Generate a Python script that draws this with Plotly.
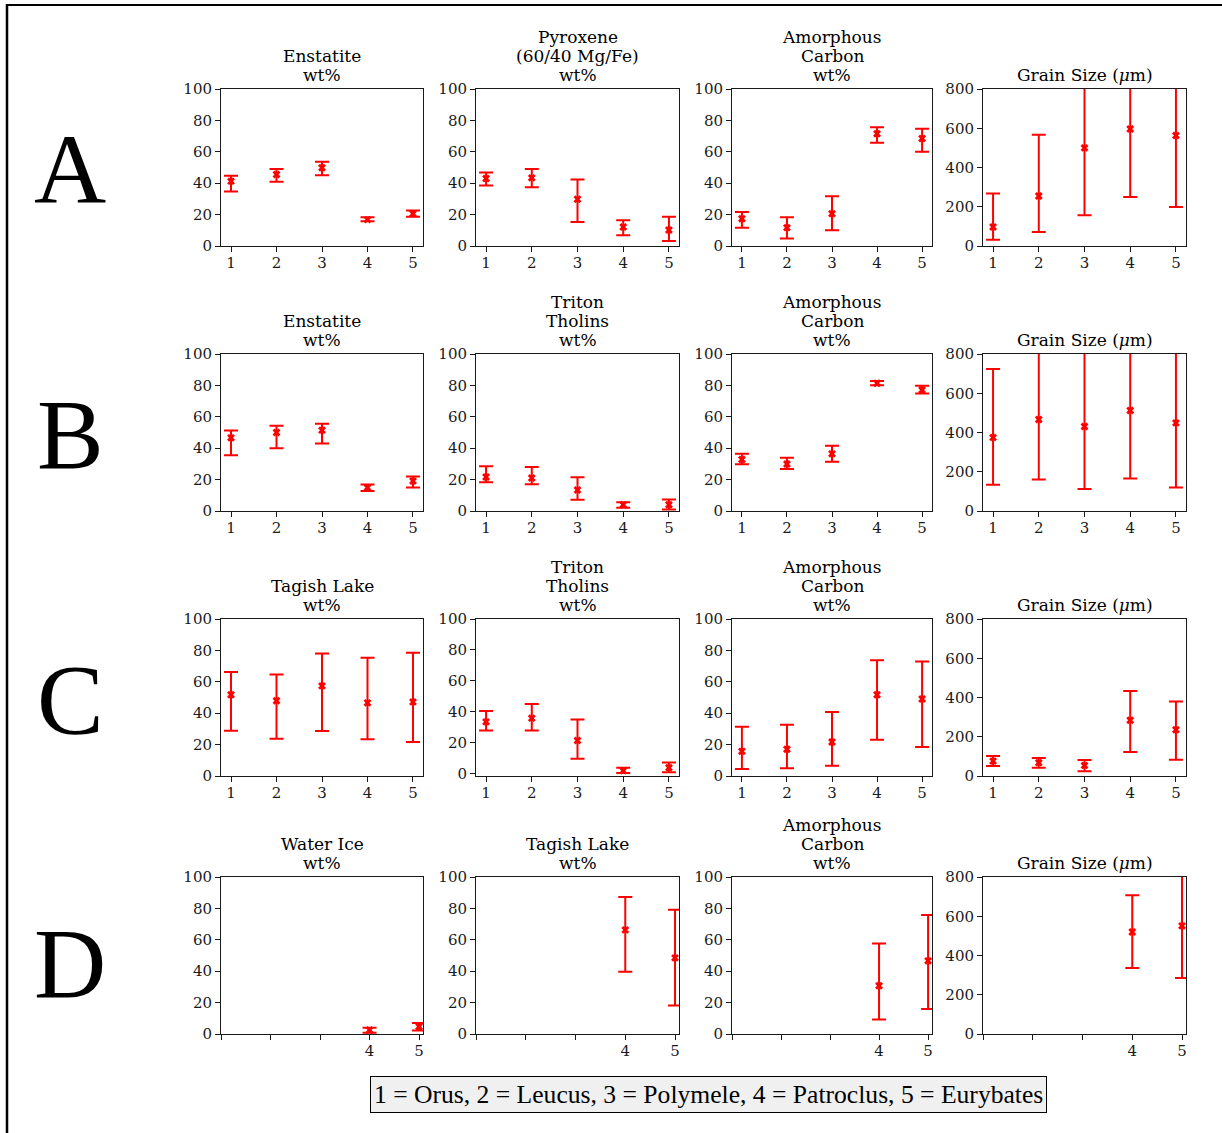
import plotly.graph_objects as go

W, H = 1222, 1133

# ---------------- data ----------------
xs = [1, 2, 3, 4, 5]
xs_D = [4, 5]

# Row A
A_enst = [41.3, 45.5, 49.8, 16.8, 20.6]
A_enst_hi = [44.7, 49.0, 53.6, 18.3, 22.6]
A_enst_lo = [34.7, 40.9, 45.1, 15.7, 18.7]

A_pyrox = [43.0, 43.4, 29.8, 12.1, 10.2]
A_pyrox_hi = [46.8, 49.1, 42.3, 16.4, 18.7]
A_pyrox_lo = [38.5, 37.4, 15.3, 6.8, 3.2]

A_amc = [17.4, 11.7, 20.6, 71.5, 68.5]
A_amc_hi = [21.7, 18.3, 31.7, 75.7, 74.7]
A_amc_lo = [11.7, 4.7, 10.0, 65.7, 60.0]

A_grain = [97, 255, 500, 596, 563]
A_grain_hi = [267, 567, 843, 942, 927]
A_grain_lo = [32, 71, 157, 250, 199]

# Row B
B_enst = [46.6, 50.0, 51.5, 14.9, 19.1]
B_enst_hi = [51.3, 54.3, 55.5, 16.8, 21.9]
B_enst_lo = [35.5, 40.0, 43.0, 12.8, 14.9]

B_thol = [21.7, 21.0, 13.4, 4.0, 4.0]
B_thol_hi = [28.5, 28.1, 21.5, 5.5, 7.4]
B_thol_lo = [18.3, 17.0, 7.2, 2.1, 1.0]

B_amc = [32.8, 29.9, 36.4, 81.4, 77.1]
B_amc_hi = [36.4, 33.9, 41.5, 82.8, 79.7]
B_amc_lo = [29.7, 26.7, 31.4, 80.1, 74.8]

B_grain = [375, 466, 431, 512, 449]
B_grain_hi = [724, 900, 900, 900, 900]
B_grain_lo = [134, 161, 112, 166, 120]

# Row C
C_tagish = [51.7, 47.9, 57.4, 46.6, 47.2]
C_tagish_hi = [66.2, 64.7, 78.1, 75.3, 78.5]
C_tagish_lo = [28.9, 23.8, 28.7, 23.4, 21.7]

C_thol = [33.5, 35.9, 21.4, 1.9, 3.9]
C_thol_hi = [40.6, 45.1, 35.0, 3.9, 7.3]
C_thol_lo = [27.9, 27.9, 9.7, 0.4, 0.9]

C_amc = [15.7, 17.0, 21.7, 51.8, 49.0]
C_amc_hi = [31.4, 32.7, 40.8, 73.7, 73.0]
C_amc_lo = [4.5, 4.9, 6.6, 23.1, 18.5]

C_grain = [76, 68, 54, 284, 236]
C_grain_hi = [102, 92, 81, 433, 379]
C_grain_lo = [51, 42, 24, 122, 83]

# Row D (only Patroclus and Eurybates)
D_ice = [2.5, 4.7]
D_ice_hi = [4.0, 7.0]
D_ice_lo = [0.8, 2.3]

D_tagish = [66.3, 48.5]
D_tagish_hi = [87.3, 79.2]
D_tagish_lo = [39.6, 18.2]

D_amc = [30.7, 46.6]
D_amc_hi = [57.6, 75.8]
D_amc_lo = [9.3, 15.9]

D_grain = [520, 551]
D_grain_hi = [707, 900]
D_grain_lo = [336, 285]

grain_title = ["Grain Size (<i>μ</i>m)"]
titles_A = [["Enstatite", "wt%"], ["Pyroxene", "(60/40 Mg/Fe)", "wt%"], ["Amorphous", "Carbon", "wt%"], grain_title]
titles_B = [["Enstatite", "wt%"], ["Triton", "Tholins", "wt%"], ["Amorphous", "Carbon", "wt%"], grain_title]
titles_C = [["Tagish Lake", "wt%"], ["Triton", "Tholins", "wt%"], ["Amorphous", "Carbon", "wt%"], grain_title]
titles_D = [["Water Ice", "wt%"], ["Tagish Lake", "wt%"], ["Amorphous", "Carbon", "wt%"], grain_title]

row_letters = ["A", "B", "C", "D"]
legend_text = "1 = Orus, 2 = Leucus, 3 = Polymele, 4 = Patroclus, 5 = Eurybates"

wt_ticks = [0, 20, 40, 60, 80, 100]
grain_ticks = [0, 200, 400, 600, 800]

# ---------------- layout geometry (pixels) ----------------
col_px = [(221, 423), (476, 679), (732, 932), (983, 1186)]
row_px = [(89, 246), (354, 511), (619, 776), (877, 1034)]
letter_y = [172, 437, 701, 965]

rows = [
    (xs, [(A_enst, A_enst_hi, A_enst_lo), (A_pyrox, A_pyrox_hi, A_pyrox_lo),
          (A_amc, A_amc_hi, A_amc_lo), (A_grain, A_grain_hi, A_grain_lo)], titles_A),
    (xs, [(B_enst, B_enst_hi, B_enst_lo), (B_thol, B_thol_hi, B_thol_lo),
          (B_amc, B_amc_hi, B_amc_lo), (B_grain, B_grain_hi, B_grain_lo)], titles_B),
    (xs, [(C_tagish, C_tagish_hi, C_tagish_lo), (C_thol, C_thol_hi, C_thol_lo),
          (C_amc, C_amc_hi, C_amc_lo), (C_grain, C_grain_hi, C_grain_lo)], titles_C),
    (xs_D, [(D_ice, D_ice_hi, D_ice_lo), (D_tagish, D_tagish_hi, D_tagish_lo),
            (D_amc, D_amc_hi, D_amc_lo), (D_grain, D_grain_hi, D_grain_lo)], titles_D),
]

FONT = "DejaVu Serif"
RED = "#ff0000"
INK = "#1a1a1a"

fig = go.Figure()
annotations = []
layout_axes = {}

k = 0
for r, (xv, panels, titles) in enumerate(rows):
    y0p, y1p = row_px[r]
    for c, (vals, hi, lo) in enumerate(panels):
        k += 1
        x0p, x1p = col_px[c]
        xa = "x" if k == 1 else f"x{k}"
        ya = "y" if k == 1 else f"y{k}"
        plus = [h - v for h, v in zip(hi, vals)]
        minus = [v - l for v, l in zip(vals, lo)]
        fig.add_trace(go.Scatter(
            x=xv, y=vals, mode="markers", xaxis=xa, yaxis=ya,
            marker=dict(symbol="x", size=7, color=RED, line=dict(width=0)),
            error_y=dict(type="data", symmetric=False, array=plus, arrayminus=minus,
                         color=RED, thickness=2, width=7),
            showlegend=False, hoverinfo="x+y",
        ))
        is_grain = (c == 3)
        if r == 3:
            xr = [1, 5.08]
            tickvals = [1, 2, 3, 4, 5]
            ticktext = ["", "", "", "4", "5"]
        else:
            xr = [0.78, 5.22]
            tickvals = [1, 2, 3, 4, 5]
            ticktext = ["1", "2", "3", "4", "5"]
        if is_grain:
            yr = [0, 800]
            ytv = grain_ticks
        elif r == 2 and c == 1:
            yr = [-1.5, 100]
            ytv = wt_ticks
        else:
            yr = [0, 100]
            ytv = wt_ticks
        common = dict(showgrid=False, zeroline=False, showline=True, linecolor=INK,
                      linewidth=1, mirror=True, ticks="outside", ticklen=5, tickwidth=1,
                      tickcolor=INK, tickfont=dict(family=FONT, size=15, color=INK),
                      fixedrange=True, automargin=False)
        xkey = "xaxis" if k == 1 else f"xaxis{k}"
        ykey = "yaxis" if k == 1 else f"yaxis{k}"
        layout_axes[xkey] = dict(domain=[x0p / W, x1p / W], anchor=ya, range=xr,
                                 tickmode="array", tickvals=tickvals, ticktext=ticktext,
                                 ticklabelstandoff=-2, **common)
        layout_axes[ykey] = dict(domain=[1 - y1p / H, 1 - y0p / H], anchor=xa, range=yr,
                                 tickmode="array", tickvals=ytv, **common)
        lines = titles[c]
        nl = len(lines)
        for i, line in enumerate(lines):
            j = nl - 1 - i  # 0 for bottom line
            cy = y0p - 14 - 19 * j
            annotations.append(dict(
                text=line, x=(x0p + x1p) / 2 / W, y=1 - cy / H, xref="paper", yref="paper",
                xanchor="center", yanchor="middle", showarrow=False,
                font=dict(family=FONT, size=17, color="#000000"), align="center",
            ))

for r, letter in enumerate(row_letters):
    annotations.append(dict(
        text=letter, x=70 / W, y=1 - letter_y[r] / H, xref="paper", yref="paper",
        xanchor="center", yanchor="middle", yshift=2, showarrow=False,
        font=dict(family="Liberation Serif", size=100, color="#000000"),
    ))

annotations.append(dict(
    text=legend_text, x=708.5 / W, y=1 - 1094.5 / H, xref="paper", yref="paper",
    xanchor="center", yanchor="middle", showarrow=False,
    font=dict(family="Liberation Serif", size=25.6, color="#000000"),
    bgcolor="#f0f0f0", bordercolor="#000000", borderwidth=1, borderpad=3,
))

shapes = [
    dict(type="line", xref="paper", yref="paper", x0=6 / W, x1=1.0, y0=1 - 5 / H, y1=1 - 5 / H,
         line=dict(color="#000000", width=2)),
    dict(type="line", xref="paper", yref="paper", x0=7 / W, x1=7 / W, y0=0, y1=1 - 4 / H,
         line=dict(color="#000000", width=2.5)),
]

fig.update_layout(
    width=W, height=H, margin=dict(l=0, r=0, t=0, b=0, pad=0, autoexpand=False),
    paper_bgcolor="white", plot_bgcolor="white",
    annotations=annotations, shapes=shapes, showlegend=False,
    font=dict(family=FONT),
    **layout_axes,
)

fig.write_html("out.html", config={"displayModeBar": False})
